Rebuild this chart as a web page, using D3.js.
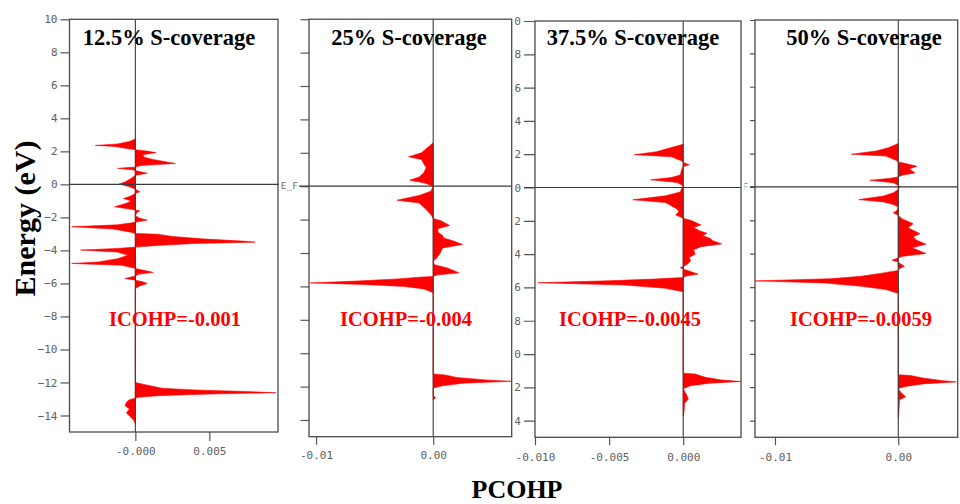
<!DOCTYPE html>
<html>
<head>
<meta charset="utf-8">
<script src="https://cdn.jsdelivr.net/npm/d3@7"></script>
<style>
  html, body { margin: 0; padding: 0; background: #fff; }
  svg { display: block; }
  .tick text { font-family: "DejaVu Sans Mono", monospace; font-size: 11px; fill: #606060; }
  .tick line { stroke: #555; stroke-width: 1.2; }
</style>
</head>
<body>
<svg id="chart" width="960" height="504"></svg>
<script>
// Energy window and tick values shared by all panels (eV)
const energyRange = [-15, 10];
const energyTicks = [10, 8, 6, 4, 2, 0, -2, -4, -6, -8, -10, -12, -14];

const coverageTitles = ["12.5% S-coverage", "25% S-coverage", "37.5% S-coverage", "50% S-coverage"];
const icohpValues = ["-0.001", "-0.004", "-0.0045", "-0.0059"];

const pcohpTickValues = [[0, 0.005], [-0.01, 0], [-0.01, -0.005, 0], [-0.01, 0]];
const pcohpTickLabels = [["-0.000", "0.005"], ["-0.01", "0.00"], ["-0.010", "-0.005", "0.000"], ["-0.01", "0.00"]];

// PCOHP curves: [energy (eV), PCOHP]
const pcohp125 = [
  [2.75, 0], [2.6, -0.0004], [2.45, -0.0012], [2.36, -0.0027], [2.3, -0.0014], [2.18, -0.0006], [2.1, 0],
  [2.0, 0.0009], [1.92, 0.0014], [1.8, 0.0005], [1.65, 0.0006], [1.5, 0.0012], [1.27, 0.0027], [1.15, 0.0004],
  [1.05, 0], [0.97, -0.0012], [0.88, -0.0002], [0.8, 0.0002], [0.67, 0.0008], [0.55, 0], [0.35, -0.0003],
  [0.15, -0.0007], [0.02, -0.0011], [-0.15, -0.0004], [-0.3, 0], [-0.45, 0.0003], [-0.55, 0], [-0.7, -0.0003],
  [-0.85, -0.0008], [-1.0, -0.0003], [-1.15, -0.0006], [-1.36, -0.0014], [-1.5, -0.0003], [-1.6, 0.0003],
  [-1.72, 0.0001], [-1.9, 0], [-2.05, 0.0003], [-2.16, 0.0008], [-2.3, 0], [-2.45, -0.0012], [-2.57, -0.0043],
  [-2.7, -0.0015], [-2.9, -0.0003], [-2.97, 0], [-3.02, 0.0015], [-3.15, 0.0025], [-3.3, 0.0045], [-3.45, 0.0075],
  [-3.5, 0.0081], [-3.58, 0.004], [-3.7, 0.0015], [-3.8, 0], [-3.88, -0.0012], [-3.98, -0.0037], [-4.1, -0.0012],
  [-4.3, -0.0005], [-4.5, -0.0012], [-4.7, -0.0025], [-4.79, -0.0043], [-4.9, -0.0009], [-5.05, -0.0002],
  [-5.15, 0.0003], [-5.33, 0.0012], [-5.45, 0.0002], [-5.55, 0], [-5.7, -0.0007], [-5.8, 0], [-5.9, 0.0005],
  [-6.0, 0.0008], [-6.15, 0.0003], [-6.3, 0],
  [-12.0, 0], [-12.1, 0.0005], [-12.35, 0.0018], [-12.45, 0.004], [-12.55, 0.0075], [-12.62, 0.0095],
  [-12.7, 0.005], [-12.8, 0.0015], [-12.9, 0.0002], [-12.95, 0], [-13.05, -0.0004], [-13.2, -0.0006],
  [-13.4, -0.0007], [-13.6, -0.0004], [-13.85, -0.0006], [-14.1, -0.0003], [-14.3, -0.0001], [-14.5, 0]
];

const pcohp25 = [
  [2.6, 0], [2.3, -0.0005], [2.0, -0.001], [1.76, -0.0021], [1.6, -0.001], [1.4, -0.00085], [1.1, -0.0006],
  [0.8, -0.0008], [0.55, -0.0012], [0.36, -0.002], [0.2, -0.0008], [0.0, 0], [-0.3, -0.0002], [-0.55, -0.0012],
  [-0.84, -0.0031], [-1.0, -0.0012], [-1.4, -0.0006], [-1.7, -0.0002], [-1.94, 0], [-2.05, 0.0006],
  [-2.35, 0.0014], [-2.55, 0.0004], [-2.75, 0.0004], [-2.95, 0.0008], [-3.1, 0.0009], [-3.3, 0.0018],
  [-3.49, 0.0025], [-3.7, 0.0008], [-4.0, 0.0006], [-4.3, 0.0003], [-4.5, 0], [-4.7, 0.0001], [-4.9, 0.0012],
  [-5.19, 0.0022], [-5.32, 0.0003], [-5.4, 0], [-5.45, -0.0012], [-5.55, -0.003], [-5.68, -0.0065],
  [-5.79, -0.0105], [-5.88, -0.006], [-6.0, -0.0025], [-6.15, -0.0008], [-6.38, 0],
  [-11.25, 0], [-11.3, 0.001], [-11.45, 0.002], [-11.6, 0.0045], [-11.68, 0.0067], [-11.8, 0.0025],
  [-11.95, 0.0008], [-12.08, 0], [-12.55, 0], [-12.65, 0.0002], [-12.8, 0]
];

const pcohp375 = [
  [2.6, 0], [2.4, -0.0008], [2.15, -0.0018], [1.97, -0.0033], [1.85, -0.0008], [1.6, -0.0001], [1.5, 0],
  [1.37, 0.0004], [1.25, 0], [1.1, -0.0001], [0.75, -0.0002], [0.6, -0.0008], [0.46, -0.0022], [0.3, -0.0004],
  [0.1, 0], [-0.05, -0.0001], [-0.27, -0.0002], [-0.5, -0.0012], [-0.74, -0.0034], [-0.9, -0.0012],
  [-1.1, -0.0008], [-1.3, -0.0004], [-1.45, -0.0003], [-1.65, -0.0005], [-1.85, 0], [-2.0, 0.0006],
  [-2.25, 0.0012], [-2.4, 0.0007], [-2.6, 0.0011], [-2.75, 0.0016], [-2.9, 0.0013], [-3.05, 0.0018],
  [-3.2, 0.002], [-3.39, 0.0026], [-3.55, 0.0012], [-3.74, 0.0007], [-4.0, 0.0008], [-4.2, 0.0004],
  [-4.4, 0.0005], [-4.6, 0.0003], [-4.75, 0], [-4.82, -0.0002], [-4.9, 0], [-5.05, 0.0005], [-5.2, 0.001],
  [-5.32, 0.0002], [-5.4, 0], [-5.5, -0.002], [-5.6, -0.005], [-5.72, -0.0098], [-5.85, -0.004],
  [-6.05, -0.0012], [-6.26, 0],
  [-11.15, 0], [-11.2, 0.0008], [-11.4, 0.0015], [-11.55, 0.0025], [-11.65, 0.0039], [-11.75, 0.0018],
  [-11.9, 0.0005], [-12.08, 0], [-12.4, 0.0002], [-12.7, 0.00035], [-12.95, 0.0001], [-13.7, 0.00003], [-13.72, 0]
];

const pcohp50 = [
  [2.6, 0], [2.35, -0.0008], [2.15, -0.0018], [1.96, -0.0038], [1.85, -0.001], [1.6, -0.0002], [1.5, 0],
  [1.4, 0.0006], [1.24, 0.0015], [1.08, 0.0009], [0.84, 0.00135], [0.7, 0.0003], [0.6, 0], [0.5, -0.0008],
  [0.4, -0.0023], [0.25, -0.0004], [0.1, 0], [0.0, 0.0001], [-0.15, 0], [-0.35, -0.0004], [-0.55, -0.0012],
  [-0.76, -0.0032], [-0.9, -0.0012], [-1.05, -0.0004], [-1.2, 0], [-1.4, -0.0001], [-1.56, -0.0004], [-1.7, 0],
  [-1.9, 0.0003], [-2.2, 0.0012], [-2.45, 0.0008], [-2.8, 0.00176], [-3.0, 0.0012], [-3.2, 0.0015],
  [-3.43, 0.00225], [-3.65, 0.0011], [-3.99, 0.00225], [-4.15, 0.0004], [-4.25, 0], [-4.39, -0.0005],
  [-4.5, 0], [-4.62, 0.0002], [-4.75, 0.0005], [-4.9, 0.0001], [-5.0, 0], [-5.15, -0.0012], [-5.35, -0.003],
  [-5.5, -0.0055], [-5.63, -0.0116], [-5.75, -0.006], [-5.95, -0.003], [-6.15, -0.001], [-6.38, 0],
  [-11.25, 0], [-11.3, 0.001], [-11.45, 0.002], [-11.6, 0.0035], [-11.68, 0.0047], [-11.8, 0.002],
  [-11.95, 0.0006], [-12.08, 0], [-12.3, 0.0002], [-12.57, 0.0006], [-12.75, 0.0001], [-13.77, 0.00003], [-13.8, 0]
];

const curves = [pcohp125, pcohp25, pcohp375, pcohp50];

// Panel geometry: visible window (clip), plot frame, PCOHP extent, axis styling
const layout = [
  { clip: [0, 280],     frame: { l: 69.5, r: 278,   t: 19.3, b: 432 },   xDomain: [-0.00445, 0.00964],
    yTick: 9,  yLabels: true,  xTick: 9, xPad: 5.7, ef: null,  zeroFrom: 69.5, zeroTo: 279 },
  { clip: [280, 514.5], frame: { l: 309, r: 511.7, t: 19.2, b: 436.7 }, xDomain: [-0.0106, 0.0067],
    yTick: 8.5, yLabels: false, xTick: 8, xPad: 6.5, ef: 298, zeroFrom: 299, zeroTo: 511.7 },
  { clip: [514.5, 743], frame: { l: 535, r: 741,   t: 21,   b: 437.3 }, xDomain: [-0.010, 0.0039],
    yTick: 11, yLabels: true,  xTick: 8, xPad: 7.4, ef: null,  zeroFrom: 524, zeroTo: 741 },
  { clip: [744.5, 960], frame: { l: 755, r: 957.7, t: 20,   b: 437.3 }, xDomain: [-0.01162, 0.00482],
    yTick: 5,  yLabels: false, xTick: 8, xPad: 7.4, ef: 748, zeroFrom: 750, zeroTo: 957.7 }
];

const svg = d3.select("#chart");
const defs = svg.append("defs");

layout.forEach((p, i) => {
  const f = p.frame;
  const clipId = "panel-clip-" + i;
  defs.append("clipPath").attr("id", clipId)
    .append("rect").attr("x", p.clip[0]).attr("y", 0)
    .attr("width", p.clip[1] - p.clip[0]).attr("height", 504);

  const g = svg.append("g").attr("clip-path", `url(#${clipId})`);

  const x = d3.scaleLinear().domain(p.xDomain).range([f.l, f.r]);
  const y = d3.scaleLinear().domain(energyRange).range([f.b, f.t]);

  // filled PCOHP curve
  const area = d3.area()
    .y(d => y(d[0]))
    .x0(x(0))
    .x1(d => x(d[1]))
    .curve(d3.curveLinear);
  g.append("path")
    .datum(curves[i])
    .attr("d", area)
    .attr("fill", "#ff0000")
    .attr("stroke", "#ff0000")
    .attr("stroke-width", 0.6)
    .attr("stroke-linejoin", "miter");

  // energy axis
  const yAxis = d3.axisLeft(y)
    .tickValues(energyTicks)
    .tickSize(p.yTick)
    .tickPadding(3)
    .tickFormat(p.yLabels ? d3.format("d") : () => "");
  const ya = g.append("g").attr("transform", `translate(${f.l},0)`).call(yAxis);
  ya.select(".domain").remove();

  // PCOHP axis
  const xAxis = d3.axisBottom(x)
    .tickValues(pcohpTickValues[i])
    .tickSize(p.xTick)
    .tickPadding(p.xPad)
    .tickFormat((d, k) => pcohpTickLabels[i][k]);
  const xa = g.append("g").attr("transform", `translate(0,${f.b})`).call(xAxis);
  xa.select(".domain").remove();

  // Fermi level and zero PCOHP lines
  g.append("line")
    .attr("x1", p.zeroFrom).attr("x2", p.zeroTo)
    .attr("y1", y(0)).attr("y2", y(0))
    .attr("stroke", "#3a3a3a").attr("stroke-width", 1.2);
  g.append("line")
    .attr("x1", x(0)).attr("x2", x(0))
    .attr("y1", f.t).attr("y2", f.b)
    .attr("stroke", "#3a3a3a").attr("stroke-width", 1.1);

  if (p.ef !== null) {
    g.append("text")
      .attr("x", p.ef).attr("y", y(0) + 3)
      .attr("text-anchor", "end")
      .attr("font-family", "DejaVu Sans Mono, monospace")
      .attr("font-size", 9.5)
      .attr("fill", "#707070")
      .text("E_F");
  }

  // frame
  g.append("rect")
    .attr("x", f.l).attr("y", f.t)
    .attr("width", f.r - f.l).attr("height", f.b - f.t)
    .attr("fill", "none").attr("stroke", "#4a4a4a").attr("stroke-width", 1.3);

  // panel title and integrated value
  const cx = [169, 409, 633, 864][i];
  g.append("text")
    .attr("x", cx).attr("y", 45)
    .attr("text-anchor", "middle")
    .attr("font-family", "Liberation Serif, Times New Roman, serif")
    .attr("font-weight", "bold")
    .attr("font-size", 22.5)
    .attr("fill", "#000")
    .text(coverageTitles[i]);

  const ix = [175, 406, 630, 861][i];
  g.append("text")
    .attr("x", ix).attr("y", 326)
    .attr("text-anchor", "middle")
    .attr("font-family", "Liberation Serif, Times New Roman, serif")
    .attr("font-weight", "bold")
    .attr("font-size", 20.5)
    .attr("fill", "#ff0000")
    .text("ICOHP=" + icohpValues[i]);
});

// shared axis titles
svg.append("text")
  .attr("transform", "translate(35,218.5) rotate(-90)")
  .attr("text-anchor", "middle")
  .attr("font-family", "Liberation Serif, Times New Roman, serif")
  .attr("font-weight", "bold")
  .attr("font-size", 30)
  .attr("fill", "#000")
  .text("Energy (eV)");

svg.append("text")
  .attr("x", 517).attr("y", 498)
  .attr("text-anchor", "middle")
  .attr("font-family", "Liberation Serif, Times New Roman, serif")
  .attr("font-weight", "bold")
  .attr("font-size", 26)
  .attr("fill", "#000")
  .text("PCOHP");
</script>
</body>
</html>
